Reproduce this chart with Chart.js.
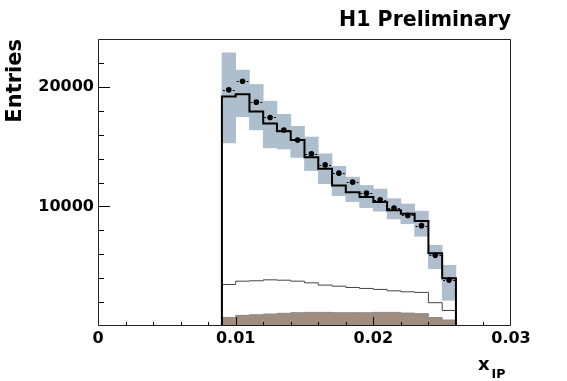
<!DOCTYPE html>
<html>
<head>
<meta charset="utf-8">
<script src="https://cdn.jsdelivr.net/npm/chart.js@4/dist/chart.umd.min.js"></script>
<style>
html,body{margin:0;padding:0;background:#fff;}
canvas{display:block;}
</style>
</head>
<body>
<canvas id="c" width="567" height="381"></canvas>
<script>
// ---- data ----
const binEdges   = [0.009,0.010,0.011,0.012,0.013,0.014,0.015,0.016,0.017,0.018,0.019,0.020,0.021,0.022,0.023,0.024,0.025,0.026];
const dataValues = [19750,20470,18720,17440,16390,15560,14390,13470,12780,12030,11110,10560,9860,9250,8390,5910,3840];
const mcTotal    = [19190,19390,17940,16940,16280,15560,14110,13160,11750,11190,10780,10360,9670,9390,8780,6080,4000];
const bandLow    = [15300,17500,16400,14900,14800,14100,13000,11900,10900,10400,9900,9600,8950,8550,7500,4800,2150];
const bandHigh   = [22850,21400,20200,18800,17700,16700,15800,14400,13350,12450,11750,11450,10650,10200,9600,6750,5080];
const bgLine     = [3470,3750,3780,3860,3830,3750,3610,3420,3330,3220,3140,3060,2940,2860,2810,1950,1300];
const bgFill     = [720,890,940,1000,1060,1110,1140,1140,1110,1110,1110,1140,1140,1080,1030,710,500];
const xTickValues = [0, 0.01, 0.02, 0.03];
const yTickValues = [0, 10000, 20000];
const xRange = [0, 0.03];
const yRange = [0, 24000];

const FONT = '"DejaVu Sans", "Liberation Sans", sans-serif';

function stepPoints(vals) {
  // points at bin lower edges; step-before draws each value across its own bin
  const pts = [{x: binEdges[0], y: 0}];
  vals.forEach((v, i) => pts.push({x: binEdges[i], y: v}));
  pts.push({x: binEdges[binEdges.length - 1], y: 0});
  return pts;
}
const binCenters = dataValues.map((_, i) => (binEdges[i] + binEdges[i + 1]) / 2);

const decor = {
  id: 'decor',
  afterDatasetsDraw(chart) {
    const {ctx, chartArea: a, scales: {x, y}} = chart;
    ctx.save();
    // horizontal (bin-width) error bars of the data points
    ctx.strokeStyle = '#000';
    ctx.lineWidth = 1;
    dataValues.forEach((v, i) => {
      const x0 = x.getPixelForValue(binEdges[i]);
      const x1 = x.getPixelForValue(binEdges[i + 1]);
      const xc = (x0 + x1) / 2;
      const yy = Math.round(y.getPixelForValue(v)) + 0.5;
      ctx.beginPath();
      ctx.moveTo(x0 + 1, yy); ctx.lineTo(xc - 4, yy);
      ctx.moveTo(xc + 4, yy); ctx.lineTo(x1 - 1, yy);
      ctx.stroke();
    });
    // frame
    ctx.strokeStyle = '#222';
    ctx.lineWidth = 1;
    ctx.beginPath();
    ctx.moveTo(a.left + 0.5, a.top + 0.5);
    ctx.lineTo(a.right - 0.5, a.top + 0.5);
    ctx.lineTo(a.right - 0.5, a.bottom - 0.5);
    ctx.lineTo(a.left + 0.5, a.bottom - 0.5);
    ctx.closePath();
    ctx.stroke();
    // inward ticks, y axis
    ctx.strokeStyle = '#000';
    ctx.beginPath();
    const yStepMinor = 2000;
    for (let v = yRange[0] + yStepMinor; v < yRange[1]; v += yStepMinor) {
      const p = Math.round(y.getPixelForValue(v)) + 0.5;
      const len = yTickValues.includes(v) ? 12 : 6;
      ctx.moveTo(a.left, p); ctx.lineTo(a.left + len, p);
    }
    // inward ticks, x axis
    const xStepMinor = 0.002;
    for (let k = 1; k < 15; k++) {
      const v = xRange[0] + k * xStepMinor;
      const p = Math.round(x.getPixelForValue(v)) + 0.5;
      const len = (k % 5 === 0) ? 9 : 4;
      ctx.moveTo(p, a.bottom); ctx.lineTo(p, a.bottom - len);
    }
    ctx.stroke();
    ctx.restore();
  },
  afterDraw(chart) {
    const {ctx, chartArea: a} = chart;
    ctx.save();
    ctx.fillStyle = '#000';
    ctx.textBaseline = 'alphabetic';
    ctx.textAlign = 'right';
    ctx.font = 'bold 20.5px ' + FONT;
    ctx.fillText('H1 Preliminary', a.right, 26);
    ctx.textAlign = 'left';
    ctx.font = 'bold 18px ' + FONT;
    ctx.fillText('x', 478, 369.5);
    ctx.font = 'bold 12.5px ' + FONT;
    ctx.fillText('IP', 491.5, 377.5);
    ctx.restore();
  }
};

const chart = new Chart(document.getElementById('c'), {
  type: 'bar',
  data: {
    datasets: [
      {
        type: 'line',
        label: 'Data',
        data: binCenters.map((c, i) => ({x: c, y: dataValues[i]})),
        showLine: false,
        pointRadius: 2.8,
        pointBackgroundColor: '#000',
        pointBorderColor: '#000',
        pointBorderWidth: 0,
        order: 0
      },
      {
        type: 'line',
        label: 'MC total',
        data: stepPoints(mcTotal),
        stepped: 'before',
        borderColor: '#000',
        borderWidth: 2,
        pointRadius: 0,
        fill: false,
        order: 1
      },
      {
        type: 'line',
        label: 'Component',
        data: stepPoints(bgLine),
        stepped: 'before',
        borderColor: '#444',
        borderWidth: 1,
        pointRadius: 0,
        fill: false,
        order: 2
      },
      {
        type: 'bar',
        label: 'Uncertainty',
        data: binCenters.map((c, i) => ({x: c, y: [bandLow[i], bandHigh[i]]})),
        backgroundColor: 'rgb(175,190,204)',
        borderWidth: 0,
        barPercentage: 1,
        categoryPercentage: 1,
        order: 3
      },
      {
        type: 'line',
        label: 'Background',
        data: stepPoints(bgFill),
        stepped: 'before',
        borderColor: '#8c8a88',
        borderWidth: 1,
        backgroundColor: 'rgb(159,141,127)',
        pointRadius: 0,
        fill: 'origin',
        order: 4
      }
    ]
  },
  options: {
    responsive: false,
    animation: false,
    devicePixelRatio: 1,
    layout: {padding: {left: 0, top: 39, right: 56, bottom: 0}},
    plugins: {legend: {display: false}, tooltip: {enabled: false}, title: {display: false}},
    scales: {
      x: {
        type: 'linear',
        min: xRange[0], max: xRange[1],
        offset: false,
        grid: {display: false, drawTicks: false},
        border: {display: false},
        afterBuildTicks: s => { s.ticks = xTickValues.map(v => ({value: v})); },
        afterFit: s => { s.height = 55; },
        ticks: {
          padding: 3,
          maxRotation: 0,
          autoSkip: false,
          color: '#000',
          font: {family: FONT, size: 16, weight: 'bold'},
          callback: v => String(v)
        }
      },
      y: {
        type: 'linear',
        min: yRange[0], max: yRange[1],
        grid: {display: false, drawTicks: false},
        border: {display: false},
        afterBuildTicks: s => { s.ticks = yTickValues.map(v => ({value: v})); },
        afterFit: s => { s.width = 98; },
        ticks: {
          padding: 4,
          color: '#000',
          font: {family: FONT, size: 16, weight: 'bold'},
          callback: v => (v === 0 ? '' : String(v))
        },
        title: {
          display: true,
          text: 'Entries',
          align: 'end',
          color: '#000',
          font: {family: FONT, size: 21, weight: 'bold'},
          padding: {top: 3, bottom: 0}
        }
      }
    }
  },
  plugins: [decor]
});
</script>
</body>
</html>
